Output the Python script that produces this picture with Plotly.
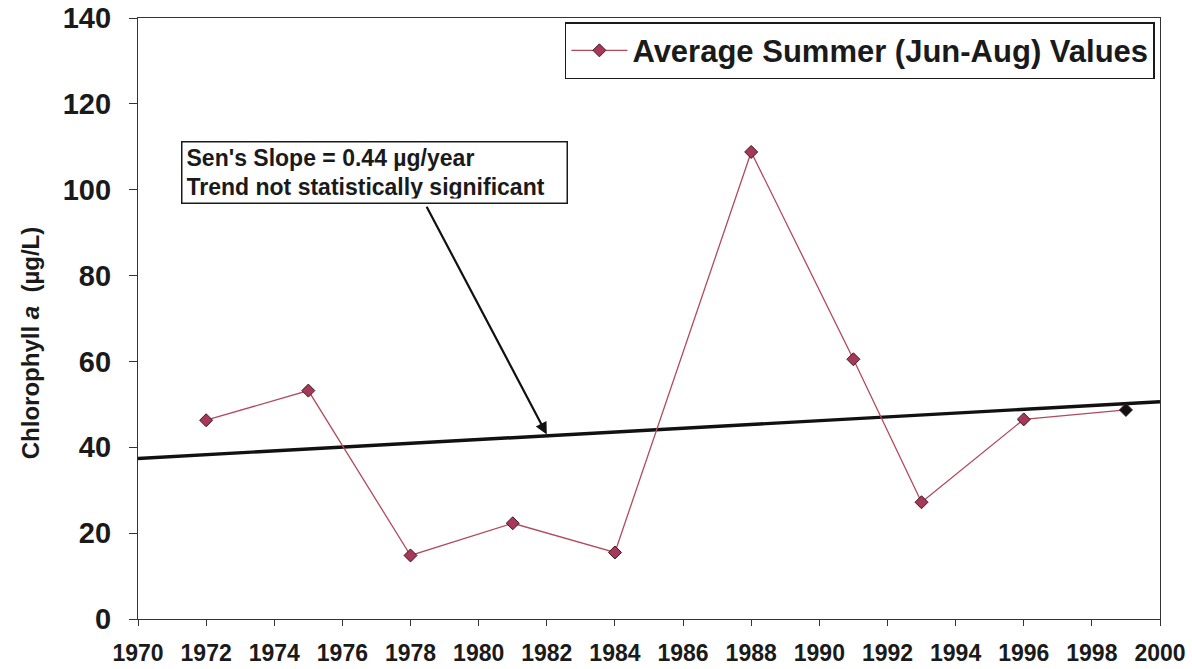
import plotly.graph_objects as go

# Average summer (Jun-Aug) chlorophyll a by sampling year
years = [1972, 1975, 1978, 1981, 1984, 1988, 1991, 1993, 1996, 1999]
chl_a = [46.3, 53.2, 14.8, 22.3, 15.5, 108.8, 60.5, 27.2, 46.5, 48.7]
marker_fill = ["#a8385a"] * 9 + ["#111111"]

# Sen's slope trend line
sen_slope = 0.44
trend_x = [1970, 2000]
trend_intercept_1970 = 37.4
trend_y = [trend_intercept_1970 + sen_slope * (x - 1970) for x in trend_x]

x_ticks = list(range(1970, 2001, 2))
y_ticks = list(range(0, 141, 20))

FONT = "Liberation Sans, Arial"
INK = "#1a1a1a"

fig = go.Figure()

fig.add_trace(go.Scatter(
    x=trend_x, y=trend_y, mode="lines",
    line=dict(color="#111111", width=3.4),
    showlegend=False, hoverinfo="skip",
))

fig.add_trace(go.Scatter(
    x=years, y=chl_a, mode="lines+markers",
    name="Average Summer (Jun-Aug) Values",
    line=dict(color="#b24a5c", width=1.3),
    marker=dict(symbol="diamond", size=10, color=marker_fill,
                line=dict(color="#3a1a22", width=1)),
))

# Arrow from the note box down to the trend line
fig.add_annotation(
    x=1982.0, y=sen_slope * 12 + trend_intercept_1970 + 0.3,
    ax=1978.45, ay=96.4, axref="x", ayref="y",
    text="", showarrow=True,
    arrowhead=2, arrowsize=1.1, arrowwidth=2.2, arrowcolor="#111111",
)
fig.add_annotation(
    x=1971.25, y=103.9, xref="x", yref="y",
    xanchor="left", yanchor="middle",
    text="Sen's Slope = 0.44 µg/year<br>Trend not statistically significant",
    align="left", showarrow=False, width=376, height=52,
    font=dict(family=FONT, size=23, color=INK, weight="bold"),
    bgcolor="white", bordercolor=INK, borderwidth=1.5, borderpad=4,
)

# Y axis title
fig.add_annotation(
    x=-0.105, y=0.46, xref="paper", yref="paper",
    xanchor="center", yanchor="middle", textangle=-90,
    text="Chlorophyll <i>a</i>  (µg/L)", showarrow=False,
    font=dict(family=FONT, size=24, color=INK, weight="bold"),
)

fig.update_layout(
    width=1192, height=669,
    margin=dict(l=138, r=32, t=18, b=50),
    paper_bgcolor="white", plot_bgcolor="white",
    font=dict(family=FONT, color=INK),
    showlegend=True,
    legend=dict(
        x=0.995, y=0.993, xanchor="right", yanchor="top",
        bgcolor="white", bordercolor=INK, borderwidth=1.5,
        font=dict(size=31, family=FONT, weight="bold", color=INK),
        itemwidth=56,
    ),
    xaxis=dict(
        range=[1970, 2000], tickvals=x_ticks, ticktext=[str(t) for t in x_ticks],
        showgrid=False, zeroline=False, automargin=False,
        showline=True, linecolor="#333333", linewidth=1.2, mirror=True,
        ticks="outside", ticklen=6, tickcolor="#333333",
        ticklabelstandoff=7,
        tickfont=dict(size=23, weight="bold", color=INK),
    ),
    yaxis=dict(
        range=[0, 140], tickvals=y_ticks,
        showgrid=False, zeroline=False, automargin=False,
        showline=True, linecolor="#333333", linewidth=1.2, mirror=True,
        ticks="outside", ticklen=8, tickcolor="#333333",
        ticklabelstandoff=12,
        tickfont=dict(size=29, weight="bold", color=INK),
    ),
)

fig.write_html("out.html")
